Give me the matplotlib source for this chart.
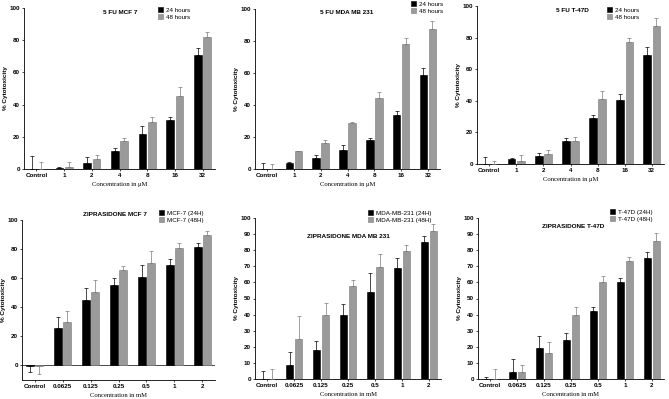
import numpy as np
import matplotlib.pyplot as plt

W, H = 669, 399

GROUPS_UM = ["Control", "1", "2", "4", "8", "16", "32"]
GROUPS_MM = ["Control", "0.0625", "0.125", "0.25", "0.5", "1", "2"]

# mean values and SD (one-sided bars, drawn away from zero)
fu_mcf7_24 = [0, 0.5, 3.5, 11, 22, 30.5, 70.5]
fu_mcf7_24_sd = [8, 0.5, 4, 2, 4.5, 2, 4.5]
fu_mcf7_48 = [0, 1.5, 6, 17.5, 29, 45.5, 82]
fu_mcf7_48_sd = [4.5, 3, 3, 2, 3, 5.5, 3]

fu_mda_24 = [0, 3.5, 7, 12, 18, 33.5, 59]
fu_mda_24_sd = [4, 1, 1.5, 3, 1.5, 2.5, 4]
fu_mda_48 = [0, 11, 16.5, 28.5, 44.5, 78, 87.5]
fu_mda_48_sd = [3, 0.5, 1.5, 1, 3.5, 4, 5]

fu_t47d_24 = [0, 3, 5, 14.5, 29, 40.5, 69]
fu_t47d_24_sd = [4.5, 1, 2, 2, 2, 3.5, 5]
fu_t47d_48 = [0, 2, 6.5, 14.5, 41, 77.5, 87.5]
fu_t47d_48_sd = [2, 4, 2.5, 2.5, 5, 2.5, 5]

zip_mcf7_24 = [-0.1, 26, 45, 55, 61, 69, 81.5]
zip_mcf7_24_sd = [4.5, 7.5, 8, 5, 8, 4, 2.5]
zip_mcf7_48 = [-0.1, 30, 50.5, 65.5, 70.5, 81, 90]
zip_mcf7_48_sd = [5.5, 7.5, 8, 3, 8, 3.5, 2.5]

zip_mda_24 = [0, 9, 18, 40, 54, 69, 85]
zip_mda_24_sd = [5, 8, 5.5, 6.5, 12, 6, 4]
zip_mda_48 = [0, 25, 40, 58, 69.5, 79.5, 92]
zip_mda_48_sd = [6, 14, 7.5, 3.5, 8, 4, 4]

zip_t47d_24 = [0, 4.5, 19.5, 24, 42, 60, 75]
zip_t47d_24_sd = [1.5, 8, 7.5, 4.5, 3, 3, 4]
zip_t47d_48 = [0, 4.5, 16, 40, 60, 73.5, 86]
zip_t47d_48_sd = [6, 4.5, 7, 5, 4, 2, 4.5]

plt.rcParams["font.family"] = ["Liberation Sans", "DejaVu Sans"]

BLACK = "#000000"
GREY = "#9a9a9a"
GREY_EDGE = "#7a7a7a"


def px_rect(x0, x1, y_top, y_bot):
    return [x0 / W, 1 - y_bot / H, (x1 - x0) / W, (y_bot - y_top) / H]


def one_sided(vals, sds):
    vals = np.array(vals, dtype=float)
    sds = np.array(sds, dtype=float)
    lower = np.where(vals < 0, sds, 0)
    upper = np.where(vals >= 0, sds, 0)
    return [lower, upper]


def panel(rect, groups, v24, s24, v48, s48, ylim, yticks, xlabel,
          labels, title, title_xy, leg_xy):
    ax = fig.add_axes(px_rect(*rect))
    x = np.arange(len(groups))
    off, bw = 0.17, 0.28
    ax.bar(x - off, v24, bw, color=BLACK, edgecolor=BLACK, linewidth=0.4,
           label=labels[0], zorder=2)
    ax.bar(x + off, v48, bw, color=GREY, edgecolor=GREY_EDGE, linewidth=0.4,
           label=labels[1], zorder=2)
    ax.errorbar(x - off, v24, yerr=one_sided(v24, s24), fmt="none",
                ecolor=BLACK, elinewidth=0.5, capsize=1.4, capthick=0.5, zorder=3)
    ax.errorbar(x + off, v48, yerr=one_sided(v48, s48), fmt="none",
                ecolor=GREY_EDGE, elinewidth=0.5, capsize=1.4, capthick=0.5, zorder=3)
    if ylim[0] < 0:
        ax.axhline(0, color=BLACK, linewidth=0.5, zorder=1)
    ax.set_xlim(-0.45, len(groups) - 0.55)
    ax.set_ylim(*ylim)
    ax.set_yticks(yticks)
    ax.set_xticks(x)
    ax.set_xticklabels(groups)
    ax.tick_params(labelsize=4.5, length=1.5, width=0.5, pad=1.5)
    for t in ax.get_xticklabels() + ax.get_yticklabels():
        t.set_fontweight("bold")
    ax.spines[["top", "right"]].set_visible(False)
    ax.spines[["left", "bottom"]].set_linewidth(0.6)
    ax.set_ylabel("% Cytotoxicity", fontsize=4.6, fontweight="bold", labelpad=1)
    ax.set_xlabel(xlabel, fontsize=4.8, family=["Liberation Serif"], labelpad=3)
    fig.text(title_xy[0] / W, 1 - title_xy[1] / H, title, fontsize=4.6,
             fontweight="bold", ha="center", va="center")
    ax.legend(loc="upper left", bbox_to_anchor=(leg_xy[0] / W, 1 - leg_xy[1] / H),
              bbox_transform=fig.transFigure, frameon=False, fontsize=4.5,
              handlelength=0.8, handleheight=0.8, handletextpad=0.5,
              labelspacing=0.3, borderaxespad=0, borderpad=0)
    return ax


fig = plt.figure(figsize=(W / 100, H / 100), dpi=100)

um = "Concentration in \u03bcM"
mm = "Concentration in mM"

panel((24, 215, 8, 169), GROUPS_UM, fu_mcf7_24, fu_mcf7_24_sd, fu_mcf7_48, fu_mcf7_48_sd,
      (0, 100), range(0, 101, 20), um, ["24 hours", "48 hours"],
      "5 FU MCF 7", (120, 12), (158, 7))
panel((255, 440, 9, 169), GROUPS_UM, fu_mda_24, fu_mda_24_sd, fu_mda_48, fu_mda_48_sd,
      (0, 100), range(0, 101, 20), um, ["24 hours", "48 hours"],
      "5 FU MDA MB 231", (347, 12), (411, 1))
panel((477, 664, 6, 164), GROUPS_UM, fu_t47d_24, fu_t47d_24_sd, fu_t47d_48, fu_t47d_48_sd,
      (0, 100), range(0, 101, 20), um, ["24 hours", "48 hours"],
      "5 FU T-47D", (572, 10), (607, 7))
panel((22, 215, 220, 380), GROUPS_MM, zip_mcf7_24, zip_mcf7_24_sd, zip_mcf7_48, zip_mcf7_48_sd,
      (-10, 100), range(0, 101, 20), mm, ["MCF-7 (24H)", "MCF-7 (48H)"],
      "ZIPRASIDONE MCF 7", (115, 215), (159, 210))
panel((255, 441, 218, 379), GROUPS_MM, zip_mda_24, zip_mda_24_sd, zip_mda_48, zip_mda_48_sd,
      (0, 100), range(0, 101, 10), mm, ["MDA-MB-231 (24H)", "MDA-MB-231 (48H)"],
      "ZIPRASIDONE MDA MB 231", (348, 237), (368, 210))
panel((478, 664, 218, 379), GROUPS_MM, zip_t47d_24, zip_t47d_24_sd, zip_t47d_48, zip_t47d_48_sd,
      (0, 100), range(0, 101, 10), mm, ["T-47D (24H)", "T-47D (48H)"],
      "ZIPRASIDONE T-47D", (573, 227), (610, 209))

fig.savefig("out.png", dpi=100)
